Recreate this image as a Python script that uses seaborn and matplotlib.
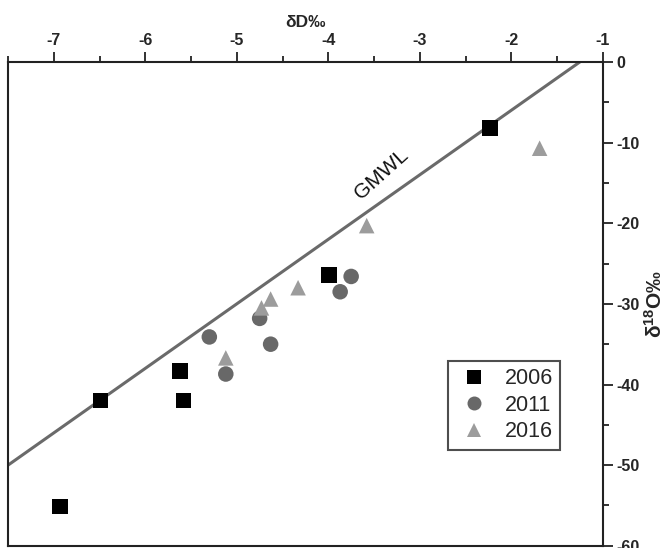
import matplotlib
matplotlib.use("Agg")
import matplotlib.pyplot as plt
import seaborn as sns
import pandas as pd
import numpy as np
from matplotlib.ticker import MultipleLocator

sns.set_theme(style="white")
plt.rcParams['font.family'] = ['Liberation Sans', 'DejaVu Sans']
plt.rcParams['mathtext.fontset'] = 'custom'
plt.rcParams['mathtext.rm'] = 'Liberation Sans'
plt.rcParams['mathtext.bf'] = 'Liberation Sans:bold'
plt.rcParams['axes.unicode_minus'] = False

# Data (x: δ values on top axis, y: values on right axis)
x_2006 = [-2.23, -3.99, -5.62, -5.58, -6.49, -6.93]
y_2006 = [-8.2, -26.4, -38.3, -42.0, -42.0, -55.1]
x_2011 = [-3.75, -3.87, -4.75, -4.63, -5.30, -5.12]
y_2011 = [-26.6, -28.5, -31.8, -35.0, -34.1, -38.7]
x_2016 = [-1.69, -3.58, -4.33, -4.63, -4.73, -5.12]
y_2016 = [-10.7, -20.3, -28.0, -29.4, -30.5, -36.7]
years = ["2006", "2011", "2016"]

# GMWL: y = 8x + 10
gmwl_x = [-7.5, -1.25]
gmwl_slope, gmwl_intercept = 8, 10

df = pd.DataFrame({
    "x": x_2006 + x_2011 + x_2016,
    "y": y_2006 + y_2011 + y_2016,
    "year": ["2006"] * len(x_2006) + ["2011"] * len(x_2011) + ["2016"] * len(x_2016),
})

fig = plt.figure(figsize=(6.69, 5.48), dpi=100)
ax = fig.add_axes([0.012, 0.004, 0.889, 0.883])

gx = np.array(gmwl_x)
ax.plot(gx, gmwl_slope * gx + gmwl_intercept, color="#6a6a6a", lw=2.2, zorder=1)

palette = {"2006": "#000000", "2011": "#686868", "2016": "#9c9c9c"}
markers = {"2006": "s", "2011": "o", "2016": "^"}
sns.scatterplot(data=df, x="x", y="y", hue="year", style="year",
                hue_order=years, style_order=years,
                palette=palette, markers=markers, s=125, linewidth=0,
                ax=ax, zorder=3, legend=True)

ax.set_xlim(-7.5, -1)
ax.set_ylim(-60, 0)

ax.xaxis.tick_top()
ax.xaxis.set_label_position("top")
ax.yaxis.tick_right()
ax.yaxis.set_label_position("right")
ax.xaxis.set_major_locator(MultipleLocator(1))
ax.xaxis.set_minor_locator(MultipleLocator(0.5))
ax.yaxis.set_major_locator(MultipleLocator(10))
ax.yaxis.set_minor_locator(MultipleLocator(5))
ax.tick_params(axis="both", which="major", direction="out", length=7, width=1.3,
               color="#222222", labelsize=11.5, pad=3)
ax.tick_params(axis="both", which="minor", direction="out", length=4, width=1.3,
               color="#222222")
ax.tick_params(axis="x", which="both", top=True, bottom=False)
ax.tick_params(axis="y", which="both", right=True, left=False)
for lab in ax.get_xticklabels() + ax.get_yticklabels():
    lab.set_fontweight("bold")

for sp in ax.spines.values():
    sp.set_color("#222222")
    sp.set_linewidth(1.5)

ax.set_xlabel("δD‰", fontsize=12.5, fontweight="bold", labelpad=4)
ax.set_ylabel(r"$\mathbf{\delta^{18}O}$‰", fontsize=15, fontweight="bold",
              rotation=90, labelpad=3)

ax.text(-3.42, -13.9, "GMWL", rotation=42, fontsize=15, ha="center",
        va="center", rotation_mode="anchor", color="#111111")

leg = ax.legend(loc="upper left", bbox_to_anchor=(0.739, 0.382), fontsize=15.5,
                frameon=True, fancybox=False, edgecolor="#222222",
                handletextpad=0.5, handlelength=1.8, borderpad=0.35,
                labelspacing=0.25, markerscale=0.9, borderaxespad=0)
leg.get_frame().set_linewidth(1.5)

fig.savefig("out.png", dpi=100)
